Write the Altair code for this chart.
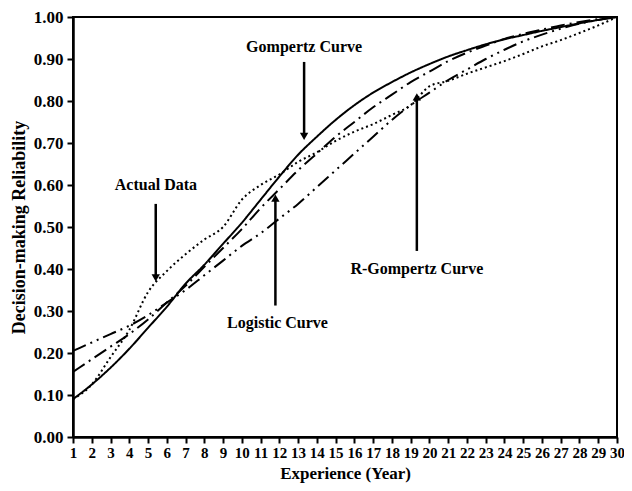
import altair as alt
import pandas as pd

years = list(range(1, 31))
actual = [0.09, 0.125, 0.19, 0.255, 0.345, 0.395, 0.435, 0.47, 0.50, 0.565,
          0.60, 0.625, 0.655, 0.678, 0.705, 0.727, 0.745, 0.767, 0.79, 0.835,
          0.848, 0.865, 0.88, 0.895, 0.912, 0.93, 0.945, 0.962, 0.98, 1.0]
gompertz = [0.09, 0.125, 0.165, 0.21, 0.26, 0.31, 0.365, 0.41, 0.46, 0.51,
            0.565, 0.62, 0.672, 0.715, 0.755, 0.79, 0.82, 0.845, 0.868, 0.888,
            0.906, 0.921, 0.935, 0.947, 0.957, 0.967, 0.976, 0.985, 0.993, 1.0]
logistic = [0.155, 0.185, 0.215, 0.245, 0.28, 0.32, 0.36, 0.405, 0.45, 0.495,
            0.545, 0.59, 0.635, 0.675, 0.715, 0.75, 0.785, 0.815, 0.845, 0.87,
            0.895, 0.915, 0.932, 0.948, 0.96, 0.97, 0.98, 0.988, 0.995, 1.0]
r_gompertz = [0.205, 0.225, 0.245, 0.265, 0.29, 0.32, 0.35, 0.385, 0.42, 0.455,
              0.485, 0.52, 0.555, 0.595, 0.635, 0.675, 0.715, 0.755, 0.79, 0.82,
              0.85, 0.875, 0.9, 0.922, 0.942, 0.958, 0.972, 0.984, 0.993, 1.0]

series_names = ["Actual Data", "Gompertz Curve", "Logistic Curve", "R-Gompertz Curve"]
series_values = [actual, gompertz, logistic, r_gompertz]
y_ticks = [0.0, 0.1, 0.2, 0.3, 0.4, 0.5, 0.6, 0.7, 0.8, 0.9, 1.0]

# annotation labels and arrows (data coordinates)
ann_labels = ["Gompertz Curve", "Actual Data", "Logistic Curve", "R-Gompertz Curve"]
ann_text_x = [13.32, 5.42, 11.90, 19.33]
ann_text_y = [0.929, 0.600, 0.272, 0.400]
ann_arrow_x = [13.32, 5.41, 11.79, 19.33]
ann_arrow_from = [0.893, 0.555, 0.313, 0.443]
ann_arrow_to = [0.716, 0.379, 0.569, 0.810]

rows = []
for name, vals in zip(series_names, series_values):
    for x, v in zip(years, vals):
        rows.append({"Year": x, "Value": v, "Series": name})
df = pd.DataFrame(rows)

ann = pd.DataFrame({
    "label": ann_labels, "tx": ann_text_x, "ty": ann_text_y,
    "ax": ann_arrow_x, "a1": ann_arrow_from, "a2": ann_arrow_to,
})
ann["shape"] = ["triangle-down" if a2 < a1 else "triangle-up" for a1, a2 in zip(ann["a1"], ann["a2"])]

FONT = "Liberation Serif"

xscale = alt.Scale(domain=[1, 30], nice=False, zero=False)
yscale = alt.Scale(domain=[0, 1], nice=False)

xaxis = alt.Axis(title="Experience (Year)", values=years, format="d",
                 labelFlush=False, labelOverlap=False, labelFontSize=15,
                 tickSize=6, labelPadding=2, titlePadding=5, titleFontSize=17)
yaxis = alt.Axis(title="Decision-making Reliability", values=y_ticks, format=".2f",
                 labelFontSize=17, labelOverlap=False, labelFlush=False,
                 tickSize=6, labelPadding=4, titlePadding=5, titleFontSize=18)

lines = alt.Chart(df).mark_line(color="black", strokeWidth=2, interpolate="monotone").encode(
    x=alt.X("Year:Q", scale=xscale, axis=xaxis),
    y=alt.Y("Value:Q", scale=yscale, axis=yaxis),
    strokeDash=alt.StrokeDash("Series:N", legend=None,
                              scale=alt.Scale(domain=series_names,
                                              range=[[2, 3], [1, 0], [14, 5, 2, 5], [14, 5, 2, 5, 2, 5]])),
    detail="Series:N",
)

texts = alt.Chart(ann).mark_text(font=FONT, fontWeight="bold", fontSize=16, color="black").encode(
    x=alt.X("tx:Q", scale=xscale, axis=xaxis), y=alt.Y("ty:Q", scale=yscale, axis=yaxis), text="label:N")

shafts = alt.Chart(ann).mark_rule(color="black", strokeWidth=2.5).encode(
    x=alt.X("ax:Q", scale=xscale, axis=xaxis), y=alt.Y("a1:Q", scale=yscale, axis=yaxis), y2="a2:Q")

heads = alt.Chart(ann).mark_point(filled=True, color="black", size=70, opacity=1).encode(
    x=alt.X("ax:Q", scale=xscale, axis=xaxis), y=alt.Y("a2:Q", scale=yscale, axis=yaxis),
    shape=alt.Shape("shape:N", legend=None,
                    scale=alt.Scale(domain=["triangle-down", "triangle-up"],
                                    range=["triangle-down", "triangle-up"])))

chart = alt.layer(lines, shafts, heads, texts).properties(
    width=544, height=420,
    autosize=alt.AutoSizeParams(type="none"),
    padding={"left": 65, "top": 9, "right": 7, "bottom": 46},
).configure_view(stroke="black", strokeWidth=2).configure_axis(
    grid=False, domainColor="black", domainWidth=2.5, tickColor="black", tickWidth=2,
    labelFont=FONT, labelFontWeight="bold", labelColor="black",
    titleFont=FONT, titleFontWeight="bold", titleColor="black",
)

chart.save("out.html", embed_options={"renderer": "svg", "actions": False})
